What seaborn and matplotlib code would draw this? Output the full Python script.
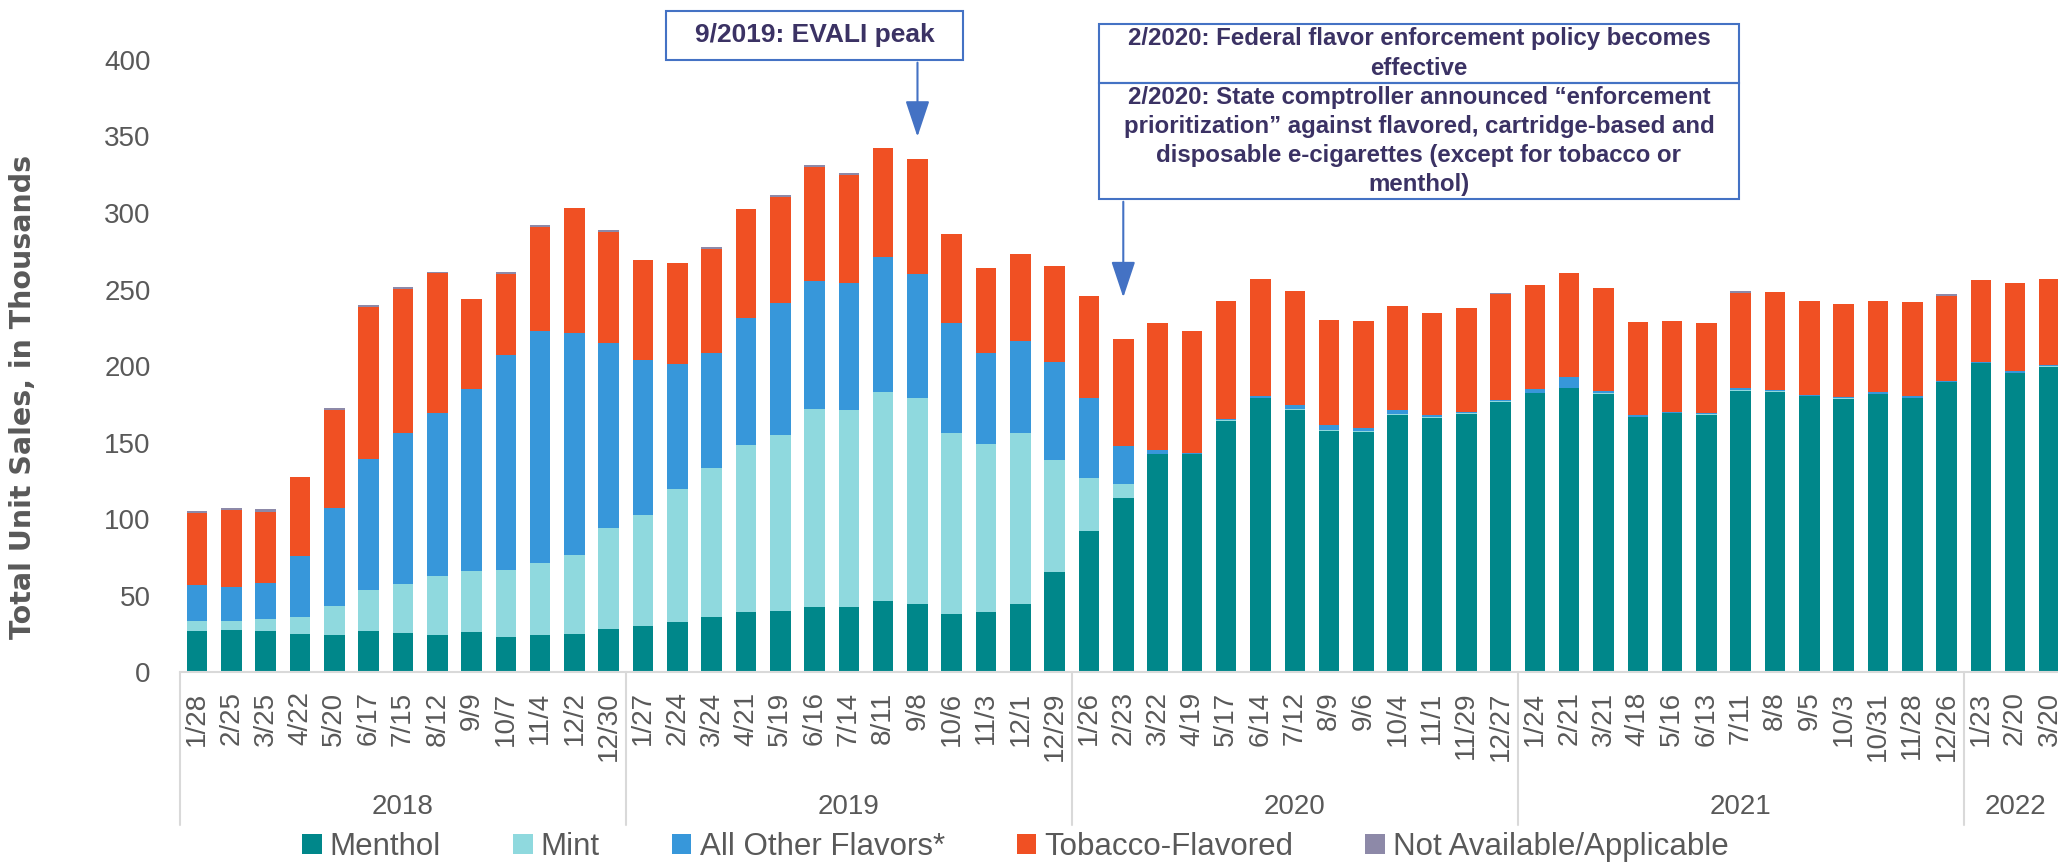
import pandas as pd
import matplotlib.pyplot as plt
import matplotlib.transforms as mtransforms
from matplotlib.patches import Patch, Rectangle
import seaborn as sns

# week-ending dates, grouped by year
years = ["2018", "2019", "2020", "2021", "2022"]
weeks_2018 = ["1/28", "2/25", "3/25", "4/22", "5/20", "6/17", "7/15", "8/12", "9/9", "10/7", "11/4", "12/2", "12/30"]
weeks_2019 = ["1/27", "2/24", "3/24", "4/21", "5/19", "6/16", "7/14", "8/11", "9/8", "10/6", "11/3", "12/1", "12/29"]
weeks_2020 = ["1/26", "2/23", "3/22", "4/19", "5/17", "6/14", "7/12", "8/9", "9/6", "10/4", "11/1", "11/29", "12/27"]
weeks_2021 = ["1/24", "2/21", "3/21", "4/18", "5/16", "6/13", "7/11", "8/8", "9/5", "10/3", "10/31", "11/28", "12/26"]
weeks_2022 = ["1/23", "2/20", "3/20"]

# unit sales in thousands
menthol = [26.8, 27.3, 26.6, 24.9, 24.4, 26.8, 25.5, 24.4, 26.4, 23.1, 24.0, 24.9, 28.4,
           29.9, 32.7, 36.2, 39.0, 40.1, 42.5, 42.3, 46.2, 44.5, 38.2, 39.5, 44.7, 65.2,
           92.0, 113.8, 142.2, 142.2, 164.2, 178.8, 171.2, 157.4, 156.6, 168.0, 165.7, 168.5, 176.4,
           182.1, 185.3, 181.6, 166.4, 169.0, 168.1, 183.8, 182.9, 180.3, 178.6, 181.6, 179.0, 189.5,
           201.9, 195.4, 199.5]
mint = [6.3, 6.3, 7.9, 10.9, 18.8, 27.1, 32.1, 38.4, 39.5, 43.6, 47.5, 51.6, 65.6,
        73.0, 87.0, 97.2, 109.3, 114.9, 129.5, 129.1, 136.9, 134.7, 118.1, 109.6, 111.6, 73.5,
        35.1, 9.4, 0.4, 0.2, 0.3, 0.5, 0.8, 0.6, 0.6, 0.4, 0.8, 0.5, 0.4,
        0.5, 0.5, 0.6, 0.4, 0.4, 0.7, 0.5, 0.5, 0.2, 0.3, 0.4, 0.4, 0.2,
        0.2, 0.3, 0.3]
other = [23.6, 21.8, 23.5, 39.7, 64.3, 85.0, 98.3, 106.2, 118.8, 140.2, 151.3, 144.8, 121.2,
         100.8, 81.3, 74.8, 83.2, 86.1, 83.3, 82.8, 87.9, 80.9, 72.0, 59.5, 59.8, 64.0,
         52.1, 24.8, 2.8, 0.6, 0.6, 0.8, 2.3, 3.4, 2.2, 2.8, 1.2, 1.0, 0.9,
         2.1, 6.7, 1.6, 0.9, 0.6, 0.8, 1.0, 0.8, 0.5, 0.6, 0.7, 0.9, 0.4,
         0.6, 0.8, 0.7]
tobacco = [46.9, 50.8, 46.9, 51.8, 63.5, 99.8, 94.2, 91.6, 59.1, 53.0, 68.0, 81.8, 72.2,
           65.6, 66.3, 68.2, 71.3, 69.2, 75.0, 70.5, 71.7, 75.2, 58.2, 55.4, 56.9, 62.8,
           66.3, 69.4, 82.5, 80.0, 77.1, 76.5, 74.7, 68.8, 69.8, 68.0, 67.1, 67.6, 69.5,
           68.0, 68.1, 66.9, 60.8, 59.6, 58.5, 62.2, 64.1, 61.6, 61.0, 59.5, 61.7, 55.6,
           53.7, 57.9, 56.5]
not_avail = [1.5, 1.1, 1.5, 0, 1.5, 1.1, 1.5, 1.0, 0, 1.3, 1.3, 0, 1.5,
             0, 0, 1.2, 0, 1.3, 1.3, 1.3, 0, 0, 0, 0, 0, 0,
             0, 0, 0, 0, 0, 0, 0, 0, 0, 0, 0, 0, 0.5,
             0, 0, 0, 0, 0, 0, 1.3, 0, 0, 0, 0, 0, 1.3,
             0, 0, 0]

series_names = ["Menthol", "Mint", "All Other Flavors*", "Tobacco-Flavored", "Not Available/Applicable"]
colors = ["#00878A", "#8FD9DE", "#3797DA", "#F05023", "#8D89A8"]

week_groups = [weeks_2018, weeks_2019, weeks_2020, weeks_2021, weeks_2022]
rows = []
for yr, wk in zip(years, week_groups):
    for w in wk:
        rows.append({"year": yr, "week": w, "key": f"{yr}-{w}"})
df = pd.DataFrame(rows)
for name, vals in zip(series_names, [menthol, mint, other, tobacco, not_avail]):
    df[name] = vals
# stacked tops
cum = df[series_names].cumsum(axis=1)
order = df["key"].tolist()

sns.set_theme(style="white")
plt.rcParams["font.family"] = ["Liberation Sans", "DejaVu Sans"]
grey = "#595959"

fig = plt.figure(figsize=(20.58, 8.63), dpi=100)
ax = fig.add_axes([180 / 2058, 191 / 863, 1878 / 2058, 612 / 863])

# draw from the total down so every segment shows
for name, col in reversed(list(zip(series_names, colors))):
    sns.barplot(x=df["key"], y=cum[name], order=order, color=col, width=0.6,
                saturation=1, errorbar=None, linewidth=0, ax=ax)

n = len(df)
ax.set_xlim(-0.5, 54.25)
ax.set_ylim(0, 400)
ax.set_yticks(range(0, 401, 50))
ax.set_xticks(range(n))
ax.set_xticklabels(df["week"], rotation=90)
ax.tick_params(axis="x", length=0, pad=14, labelsize=20, labelcolor=grey)
ax.tick_params(axis="y", length=0, pad=21, labelsize=20, labelcolor=grey)
ax.set_xlabel("")
ax.set_ylabel("Total Unit Sales, in Thousands", fontsize=20.5, fontweight="bold",
              color=grey, family="DejaVu Sans")
ax.yaxis.set_label_coords(-0.076, 0.45)
for s in ["top", "right", "left"]:
    ax.spines[s].set_visible(False)
ax.spines["bottom"].set_color("#D9D9D9")
ax.spines["bottom"].set_linewidth(1.5)

# year group lines and labels
trans = mtransforms.blended_transform_factory(ax.transData, ax.transAxes)
start = 0
for yr, wk in zip(years, week_groups):
    ax.plot([start - 0.5, start - 0.5], [0, -0.25], transform=trans, color="#D9D9D9",
            lw=1.5, clip_on=False)
    mid = start + (len(wk) - 1) / 2
    ax.text(mid, -0.221, yr, transform=trans, ha="center", va="center",
            fontsize=20, color=grey, clip_on=False)
    start += len(wk)

# annotations
box_col = "#4472C4"
txt_col = "#3B3264"
arrow = dict(arrowstyle="-|>,head_length=0.9,head_width=0.3", color=box_col, lw=1.5,
             mutation_scale=25)
ax.add_patch(Rectangle((13.67, 400.1), 8.66, 32.0, fill=False, ec=box_col, lw=1.5, clip_on=False))
ax.text(18.0, 416.1, "9/2019: EVALI peak", ha="center", va="center", fontsize=19,
        fontweight="bold", color=txt_col, clip_on=False)
ax.annotate("", xy=(21, 348), xytext=(21, 400.1), arrowprops=arrow, annotation_clip=False)

ax.add_patch(Rectangle((26.29, 385.0), 18.66, 38.6, fill=False, ec=box_col, lw=1.5, clip_on=False))
ax.add_patch(Rectangle((26.29, 309.2), 18.66, 75.8, fill=False, ec=box_col, lw=1.5, clip_on=False))
ax.text(35.62, 404.3, "2/2020: Federal flavor enforcement policy becomes\neffective",
        ha="center", va="center", fontsize=17.3, fontweight="bold", color=txt_col,
        linespacing=1.35, clip_on=False)
ax.text(35.62, 347.1,
        "2/2020: State comptroller announced \u201cenforcement\n"
        "prioritization\u201d against flavored, cartridge-based and\n"
        "disposable e-cigarettes (except for tobacco or\nmenthol)",
        ha="center", va="center", fontsize=17.3, fontweight="bold", color=txt_col,
        linespacing=1.32, clip_on=False)
ax.annotate("", xy=(27, 243), xytext=(27, 309.2), arrowprops=arrow, annotation_clip=False)

# legend
handles = [Patch(facecolor=c, edgecolor="none") for c in colors]
fig.legend(handles, series_names, loc="center left", bbox_to_anchor=(302 / 2058, 16 / 863),
           ncol=5, frameon=False, fontsize=22.5, labelcolor=grey, handlelength=0.63,
           handleheight=0.63, handletextpad=0.26, columnspacing=2.3,
           borderpad=0, borderaxespad=0)

fig.savefig("out.png", dpi=100)
